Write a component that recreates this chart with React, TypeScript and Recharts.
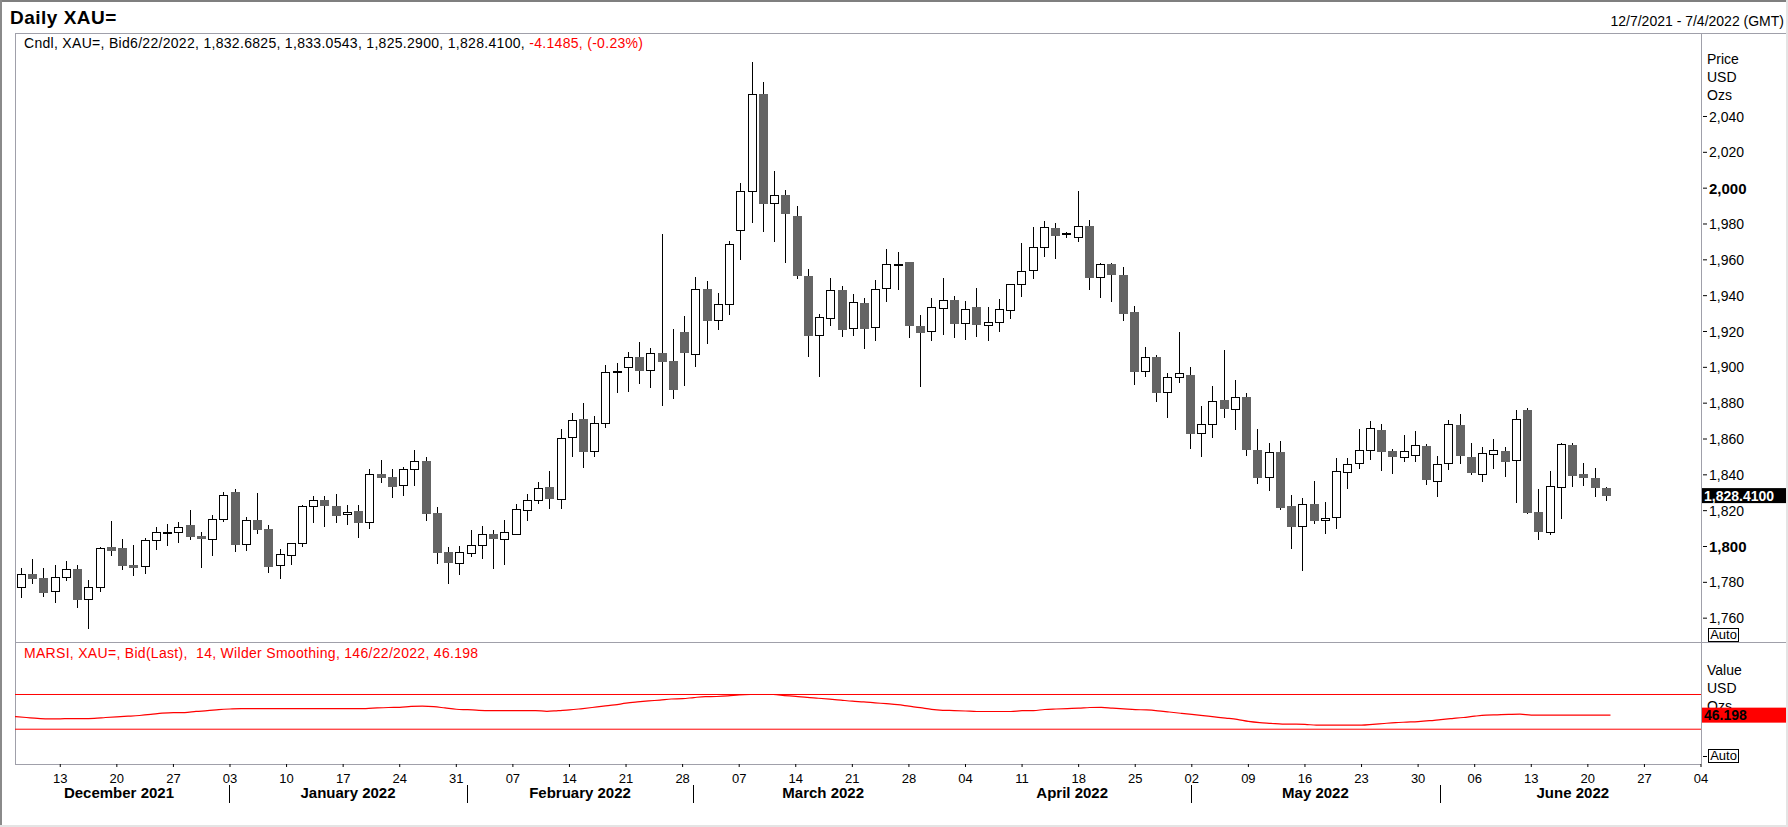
import React from 'react';
import { ComposedChart, Bar, Line, XAxis, YAxis, ReferenceLine } from 'recharts';

// daily XAU= candles, 7 Dec 2021 .. 22 Jun 2022 (one per weekday)
const openP = [
  1777.2, 1784.6, 1782.4, 1775.0, 1782.8, 1787.4, 1770.5, 1777.2, 1799.7, 1799.2,
  1789.7, 1788.9, 1803.4, 1808.0, 1807.9, 1812.0, 1805.9, 1804.0, 1815.2, 1830.4,
  1801.2, 1814.8, 1809.8, 1789.5, 1795.1, 1801.8, 1822.4, 1825.8, 1822.6, 1817.9,
  1819.8, 1813.5, 1840.5, 1838.6, 1834.1, 1843.1, 1847.7, 1818.7, 1796.7, 1790.6,
  1796.2, 1800.7, 1806.8, 1804.4, 1806.8, 1820.2, 1825.8, 1833.2, 1826.3, 1860.9,
  1871.2, 1853.1, 1868.7, 1897.8, 1900.0, 1905.6, 1898.3, 1907.8, 1903.4, 1919.7,
  1907.6, 1943.5, 1926.2, 1935.5, 1976.5, 1998.2, 2052.6, 1991.5, 1996.0, 1984.5,
  1951.0, 1917.9, 1927.4, 1943.2, 1921.8, 1935.9, 1922.3, 1944.1, 1957.3, 1958.8,
  1923.1, 1920.1, 1932.9, 1937.6, 1924.6, 1933.5, 1923.4, 1925.1, 1931.8, 1946.3,
  1954.3, 1967.0, 1977.6, 1974.6, 1972.6, 1978.9, 1950.2, 1957.5, 1951.5, 1930.9,
  1897.7, 1905.7, 1886.0, 1894.4, 1895.7, 1863.1, 1868.2, 1881.7, 1876.9, 1883.4,
  1853.8, 1838.6, 1852.7, 1822.6, 1811.2, 1823.7, 1814.6, 1816.3, 1841.4, 1846.4,
  1853.8, 1865.0, 1853.3, 1849.7, 1850.9, 1856.1, 1836.3, 1846.4, 1867.8, 1849.9,
  1840.6, 1851.4, 1853.3, 1848.1, 1876.2, 1819.2, 1808.2, 1833.0, 1856.6, 1840.4,
  1838.2, 1832.6825,
];
const highP = [
  1787.8, 1793.0, 1787.8, 1789.7, 1791.9, 1789.7, 1781.3, 1799.5, 1814.2, 1804.2,
  1800.8, 1804.6, 1810.7, 1812.6, 1813.7, 1820.4, 1807.9, 1817.6, 1830.4, 1832.1,
  1816.6, 1830.0, 1811.8, 1798.6, 1802.1, 1823.2, 1828.2, 1828.2, 1829.3, 1823.2,
  1823.2, 1843.1, 1848.3, 1843.1, 1844.4, 1853.9, 1849.8, 1821.9, 1799.7, 1800.3,
  1809.2, 1811.4, 1809.2, 1814.8, 1823.7, 1829.3, 1836.0, 1842.1, 1865.6, 1874.3,
  1880.1, 1872.8, 1901.3, 1902.2, 1908.4, 1913.9, 1910.6, 1974.4, 1921.4, 1928.7,
  1950.2, 1948.2, 1941.3, 1970.3, 2002.7, 2070.4, 2059.3, 2009.6, 1999.0, 1990.1,
  1954.9, 1929.8, 1949.9, 1945.4, 1940.9, 1938.7, 1948.8, 1966.0, 1964.4, 1959.0,
  1929.0, 1938.9, 1949.9, 1939.8, 1937.0, 1944.3, 1933.9, 1938.1, 1946.3, 1969.4,
  1978.3, 1981.7, 1980.6, 1975.7, 1998.4, 1982.2, 1958.2, 1958.2, 1956.0, 1934.2,
  1911.3, 1906.9, 1896.6, 1919.7, 1900.2, 1878.4, 1889.5, 1909.6, 1892.9, 1885.6,
  1865.5, 1857.7, 1858.9, 1828.7, 1827.0, 1836.5, 1824.8, 1849.4, 1849.4, 1865.5,
  1870.0, 1868.3, 1854.4, 1862.2, 1864.4, 1857.2, 1850.5, 1870.6, 1873.9, 1857.7,
  1855.5, 1860.0, 1855.5, 1876.2, 1877.1, 1832.1, 1842.1, 1857.5, 1857.5, 1846.4,
  1843.6, 1833.0543,
];
const lowP = [
  1771.4, 1778.9, 1772.0, 1768.6, 1780.9, 1765.9, 1753.8, 1774.8, 1794.9, 1786.9,
  1783.7, 1784.8, 1798.2, 1800.5, 1802.1, 1803.8, 1788.2, 1794.9, 1813.9, 1797.1,
  1797.7, 1807.2, 1785.4, 1782.0, 1789.9, 1799.9, 1813.3, 1811.1, 1813.3, 1812.2,
  1804.9, 1809.6, 1835.3, 1827.3, 1828.4, 1834.0, 1814.4, 1790.4, 1779.3, 1784.3,
  1794.3, 1793.2, 1787.6, 1789.9, 1806.5, 1814.4, 1823.9, 1820.7, 1820.7, 1849.8,
  1843.6, 1849.8, 1866.3, 1885.5, 1886.4, 1890.5, 1888.6, 1878.6, 1882.5, 1889.8,
  1900.4, 1913.0, 1920.8, 1929.2, 1960.1, 1980.7, 1975.7, 1970.1, 1958.4, 1949.5,
  1906.0, 1894.8, 1923.3, 1917.1, 1917.7, 1910.2, 1914.9, 1936.7, 1943.2, 1916.6,
  1889.2, 1914.9, 1918.2, 1916.6, 1915.4, 1917.1, 1914.9, 1919.9, 1926.8, 1939.4,
  1949.1, 1961.8, 1960.7, 1972.4, 1970.1, 1943.2, 1938.9, 1936.7, 1926.0, 1890.3,
  1894.8, 1880.8, 1871.9, 1891.4, 1854.6, 1850.1, 1860.7, 1871.9, 1865.2, 1850.7,
  1834.9, 1831.1, 1820.5, 1798.8, 1786.5, 1812.3, 1807.1, 1809.9, 1832.2, 1843.4,
  1848.4, 1842.3, 1840.6, 1847.3, 1847.3, 1834.5, 1827.8, 1842.8, 1846.2, 1840.1,
  1836.2, 1843.4, 1838.8, 1824.4, 1818.3, 1803.8, 1806.6, 1815.5, 1833.4, 1833.9,
  1827.8, 1825.29,
];
const closeP = [
  1784.5, 1782.0, 1774.2, 1783.0, 1787.3, 1770.3, 1777.2, 1799.0, 1797.7, 1789.3,
  1788.2, 1803.4, 1807.9, 1808.2, 1811.1, 1805.5, 1804.0, 1815.2, 1828.5, 1801.0,
  1814.6, 1809.4, 1788.7, 1795.6, 1801.8, 1822.4, 1825.8, 1822.4, 1817.2, 1819.1,
  1813.3, 1840.3, 1838.4, 1833.4, 1843.1, 1847.5, 1818.3, 1796.6, 1791.0, 1796.7,
  1800.7, 1806.8, 1804.4, 1807.9, 1820.7, 1825.8, 1832.5, 1826.7, 1860.4, 1870.4,
  1852.9, 1868.7, 1897.2, 1898.1, 1905.6, 1898.1, 1907.8, 1903.2, 1887.5, 1908.2,
  1943.5, 1926.1, 1935.2, 1968.7, 1998.2, 2052.4, 1991.4, 1996.0, 1985.4, 1951.2,
  1917.7, 1927.9, 1943.0, 1921.0, 1936.3, 1921.4, 1943.5, 1957.5, 1957.6, 1923.3,
  1919.3, 1933.5, 1937.4, 1924.2, 1932.4, 1923.8, 1925.5, 1932.4, 1946.3, 1953.6,
  1967.0, 1978.1, 1973.5, 1974.9, 1978.7, 1950.0, 1957.5, 1951.7, 1930.0, 1897.5,
  1905.5, 1885.8, 1894.4, 1896.6, 1862.9, 1868.2, 1881.0, 1876.9, 1883.2, 1854.0,
  1838.4, 1852.5, 1821.6, 1811.0, 1824.0, 1814.4, 1815.7, 1841.9, 1845.8, 1853.8,
  1865.9, 1852.9, 1850.1, 1853.1, 1856.4, 1837.3, 1845.8, 1868.2, 1850.7, 1841.2,
  1852.0, 1853.6, 1847.3, 1870.9, 1818.9, 1808.2, 1833.5, 1857.0, 1839.5, 1838.4,
  1832.8, 1828.41,
];

// MARSI 14, Wilder smoothing
const rsiValues = [
  44.5, 43.5, 42.5, 41.8, 42.0, 42.3, 42.3, 42.5, 43.5, 44.3,
  45.0, 45.8, 47.0, 48.5, 49.2, 49.2, 50.5, 51.3, 52.5, 53.3,
  53.8, 53.8, 53.8, 53.8, 53.8, 53.8, 53.8, 53.8, 53.8, 53.8,
  53.8, 53.8, 54.5, 55.0, 55.2, 56.2, 56.5, 56.0, 54.5, 53.0,
  52.5, 51.8, 51.5, 51.5, 51.5, 51.5, 51.5, 50.6, 51.5, 52.2,
  53.5, 55.0, 56.6, 58.0, 60.0, 61.4, 62.6, 63.6, 64.8, 65.3,
  66.5, 67.5, 67.7, 68.3, 69.5, 70.0, 70.0, 70.0, 68.8, 67.8,
  66.6, 65.7, 64.7, 63.5, 62.3, 61.5, 60.4, 59.4, 58.3, 56.5,
  54.8, 52.8, 51.8, 51.5, 51.0, 50.4, 50.4, 50.4, 50.4, 51.3,
  51.5, 52.7, 53.3, 53.8, 54.2, 55.0, 55.2, 54.2, 53.4, 52.6,
  52.2, 51.2, 49.8, 48.4, 47.0, 45.6, 44.2, 42.8, 41.3, 39.0,
  37.6, 36.8, 35.9, 35.8, 35.6, 34.6, 34.6, 34.6, 34.6, 34.6,
  35.5, 36.6, 37.6, 38.2, 38.8, 39.8, 41.1, 42.3, 43.5, 45.0,
  46.2, 46.6, 47.0, 47.3, 46.2, 46.2, 46.2, 46.2, 46.2, 46.2,
  46.2, 46.198,
];

const FIRST_DAY = '2021-12-07';
const SLOT_COUNT = 150; // weekdays up to 4 Jul 2022
const priceTicks = [1760, 1780, 1800, 1820, 1840, 1860, 1880, 1900, 1920, 1940, 1960, 1980, 2000, 2020, 2040];
const rsiLevels = [70, 30];
const monthNames = ['December 2021', 'January 2022', 'February 2022', 'March 2022', 'April 2022', 'May 2022', 'June 2022'];
const noSeparator = ['2021-12-07', '2022-04-01'];

const W = 1788;
const H = 827;
const PLOT_L = 15;
const PLOT_R = 1701;
const PRICE_TOP = 33;
const SPLIT = 642;
const RSI_BOTTOM = 764;
const FONT = '"Liberation Sans", Arial, Helvetica, sans-serif';
const RED = '#ff0000';
const GRID = '#a0a0aa';

function weekdays(start: string, count: number) {
  const out: string[] = [];
  const d = new Date(start + 'T00:00:00Z');
  while (out.length < count) {
    const wd = d.getUTCDay();
    if (wd !== 0 && wd !== 6) out.push(d.toISOString().slice(0, 10));
    d.setUTCDate(d.getUTCDate() + 1);
  }
  return out;
}

const dates = weekdays(FIRST_DAY, SLOT_COUNT);
const mondays = dates.filter((d) => new Date(d + 'T00:00:00Z').getUTCDay() === 1);
const monthStarts = dates.filter((d, i) => i === 0 || d.slice(0, 7) !== dates[i - 1].slice(0, 7));
const monthTicks = monthStarts.slice(0, monthNames.length);

const priceRows = dates.map((date, i) =>
  i < closeP.length
    ? { date, open: openP[i], high: highP[i], low: lowP[i], close: closeP[i] }
    : { date }
);
const rsiRows = dates.map((date, i) => ({ date, rsi: i < rsiValues.length ? rsiValues[i] : null }));

const lastClose = closeP[closeP.length - 1];
const lastRsi = rsiValues[rsiValues.length - 1];

const fmtPrice = (v: number, digits = 0) =>
  v.toLocaleString('en-US', { minimumFractionDigits: digits, maximumFractionDigits: digits });

function Candle(props: any) {
  const { x, y, width, height, payload } = props;
  if (payload == null || payload.close == null) return null;
  const top = Math.min(y, y + height);
  const bottom = Math.max(y, y + height);
  const k = (bottom - top) / (payload.high - payload.low);
  const yO = top + (payload.high - payload.open) * k;
  const yC = top + (payload.high - payload.close) * k;
  const up = payload.close >= payload.open;
  const bTop = Math.round(Math.min(yO, yC));
  const bBot = Math.round(Math.max(yO, yC));
  const cx = Math.round(x + width / 2);
  const left = cx - 4;
  return (
    <g shapeRendering="crispEdges">
      <line x1={cx + 0.5} x2={cx + 0.5} y1={Math.round(top)} y2={Math.round(bottom)} stroke="#000" strokeWidth={1} />
      {up ? (
        <rect x={left + 0.5} y={bTop + 0.5} width={8} height={Math.max(bBot - bTop, 1)} fill="#fff" stroke="#000" strokeWidth={1} />
      ) : (
        <rect x={left} y={bTop} width={9} height={Math.max(bBot - bTop, 1)} fill="#646464" />
      )}
    </g>
  );
}

function PriceTick(props: any) {
  const { x, y, payload } = props;
  const strong = payload.value % 200 === 0;
  return (
    <g>
      <line x1={x + 2} x2={x + 6} y1={y} y2={y} stroke="#000" />
      <text x={x + 8} y={y} dy="0.36em" fontFamily={FONT} fontSize={strong ? 15 : 14} fontWeight={strong ? 'bold' : 'normal'} fill="#000">
        {fmtPrice(payload.value)}
      </text>
    </g>
  );
}

function DayTick(props: any) {
  const { x, y, payload } = props;
  return (
    <text x={x} y={y} dy={16} textAnchor="middle" fontFamily={FONT} fontSize={13} fill="#000">
      {payload.value.slice(8, 10)}
    </text>
  );
}

function MonthTick(props: any) {
  const { x, y, payload } = props;
  const idx = dates.indexOf(payload.value);
  const k = monthStarts.indexOf(payload.value);
  const band = (PLOT_R - PLOT_L) / dates.length;
  const left = idx === 0 ? x - band / 2 : x;
  const next = k + 1 < monthNames.length ? monthStarts[k + 1] : null;
  const right = next ? x + (dates.indexOf(next) - idx) * band : x + (dates.length - 0.5 - idx) * band;
  return (
    <g>
      {!noSeparator.includes(payload.value) && (
        <line x1={x} x2={x} y1={y + 1} y2={y + 19} stroke="#000" strokeWidth={1} shapeRendering="crispEdges" />
      )}
      <text x={(left + right) / 2} y={y + 14} textAnchor="middle" fontFamily={FONT} fontSize={15} fontWeight="bold" fill="#000">
        {monthNames[k]}
      </text>
    </g>
  );
}

function SideTag(props: any) {
  const { viewBox, text, bg, color } = props;
  if (!viewBox) return null;
  const x0 = viewBox.x + viewBox.width + 1;
  const yc = viewBox.y;
  return (
    <g>
      <rect x={x0} y={yc - 7.5} width={W - 2 - x0} height={15} fill={bg} />
      <text x={x0 + 2} y={yc} dy="0.36em" fontFamily={FONT} fontSize={14} fontWeight="bold" fill={color}>
        {text}
      </text>
    </g>
  );
}

function Overlay() {
  const t = { fontFamily: FONT, fill: '#000' } as const;
  return (
    <svg width={W} height={H} style={{ position: 'absolute', left: 0, top: 0 }}>
      <rect x={0} y={0} width={W} height={2} fill="#7f7f7f" />
      <rect x={0} y={0} width={2} height={H} fill="#8a8a8a" />
      <rect x={W - 2} y={0} width={2} height={H} fill="#e4e4e4" />
      <rect x={0} y={H - 2} width={W} height={2} fill="#e4e4e4" />
      <g stroke={GRID} strokeWidth={1} shapeRendering="crispEdges">
        <line x1={PLOT_L} x2={W - 2} y1={PRICE_TOP + 0.5} y2={PRICE_TOP + 0.5} />
        <line x1={PLOT_L} x2={W - 2} y1={SPLIT + 0.5} y2={SPLIT + 0.5} />
        <line x1={PLOT_L} x2={PLOT_R} y1={RSI_BOTTOM + 0.5} y2={RSI_BOTTOM + 0.5} />
        <line x1={PLOT_L + 0.5} x2={PLOT_L + 0.5} y1={PRICE_TOP} y2={RSI_BOTTOM} />
        <line x1={PLOT_R + 0.5} x2={PLOT_R + 0.5} y1={PRICE_TOP} y2={RSI_BOTTOM} />
      </g>
      <text x={10} y={24} {...t} fontSize={19} fontWeight="bold" letterSpacing={0.5}>Daily XAU=</text>
      <text x={W - 4} y={26} {...t} fontSize={14} textAnchor="end">12/7/2021 - 7/4/2022 (GMT)</text>
      <text x={24} y={48} {...t} fontSize={14} letterSpacing={0.3} style={{ whiteSpace: 'pre' }}>
        Cndl, XAU=, Bid6/22/2022, 1,832.6825, 1,833.0543, 1,825.2900, 1,828.4100,{' '}
        <tspan fill={RED}>-4.1485, (-0.23%)</tspan>
      </text>
      <text x={24} y={658} fontFamily={FONT} fontSize={14} fill={RED} letterSpacing={0.3} style={{ whiteSpace: 'pre' }}>
        MARSI, XAU=, Bid(Last),  14, Wilder Smoothing, 146/22/2022, 46.198
      </text>
      <text x={1707} y={64} {...t} fontSize={14}>Price</text>
      <text x={1707} y={82} {...t} fontSize={14}>USD</text>
      <text x={1707} y={99.5} {...t} fontSize={14}>Ozs</text>
      <rect x={1708.5} y={628.5} width={30} height={13} fill="#fff" stroke="#000" />
      <text x={1723.5} y={639} {...t} fontSize={13} textAnchor="middle">Auto</text>
      <text x={1707} y={675} {...t} fontSize={14}>Value</text>
      <text x={1707} y={692.5} {...t} fontSize={14}>USD</text>
      <text x={1707} y={711} {...t} fontSize={14}>Ozs</text>
      <line x1={1703} x2={1707} y1={756.5} y2={756.5} stroke="#000" />
      <rect x={1708.5} y={749.5} width={30} height={13} fill="#fff" stroke="#000" />
      <text x={1723.5} y={760} {...t} fontSize={13} textAnchor="middle">Auto</text>
    </svg>
  );
}

export default function App() {
  const rsiH = H - SPLIT;
  return (
    <div style={{ position: 'absolute', left: 0, top: 0, width: W, height: H, background: '#fff', overflow: 'hidden' }}>
      <Overlay />
      <div style={{ position: 'absolute', left: 0, top: 0 }}>
        <ComposedChart width={W} height={SPLIT} data={priceRows} margin={{ top: PRICE_TOP, right: 0, bottom: 0, left: PLOT_L }}>
          <XAxis dataKey="date" hide />
          <YAxis
            orientation="right"
            width={W - PLOT_R}
            domain={[1746.7, 2086.6]}
            allowDataOverflow
            ticks={priceTicks}
            interval={0}
            axisLine={false}
            tickLine={false}
            tickSize={0}
            tickMargin={0}
            tick={<PriceTick />}
          />
          <Bar
            dataKey={(d: any) => (d.close == null ? null : [d.low, d.high])}
            barSize={8}
            shape={<Candle />}
            isAnimationActive={false}
          />
          <ReferenceLine
            y={lastClose}
            stroke="none"
            label={<SideTag text={fmtPrice(lastClose, 4)} bg="#000" color="#fff" />}
          />
        </ComposedChart>
      </div>
      <div style={{ position: 'absolute', left: 0, top: SPLIT }}>
        <ComposedChart
          width={W}
          height={rsiH}
          data={rsiRows}
          margin={{ top: 0, right: 0, bottom: rsiH - (RSI_BOTTOM - SPLIT) - 62, left: PLOT_L }}
        >
          <XAxis
            dataKey="date"
            height={20}
            ticks={mondays}
            interval={0}
            axisLine={false}
            tickLine={{ stroke: '#000' }}
            tickSize={3}
            tickMargin={0}
            tick={<DayTick />}
          />
          <XAxis
            xAxisId="month"
            dataKey="date"
            height={42}
            ticks={monthTicks}
            interval={0}
            axisLine={false}
            tickLine={false}
            tickSize={0}
            tickMargin={0}
            tick={<MonthTick />}
          />
          <YAxis orientation="right" width={W - PLOT_R} domain={[-10.1, 130.5]} allowDataOverflow tick={false} axisLine={false} tickLine={false} />
          {rsiLevels.map((v) => (
            <ReferenceLine key={v} y={v} stroke={RED} strokeWidth={1} />
          ))}
          <Line type="monotone" dataKey="rsi" stroke={RED} strokeWidth={1.2} dot={false} isAnimationActive={false} />
          <ReferenceLine y={lastRsi} stroke="none" label={<SideTag text={lastRsi.toFixed(3)} bg={RED} color="#000" />} />
        </ComposedChart>
      </div>
    </div>
  );
}
